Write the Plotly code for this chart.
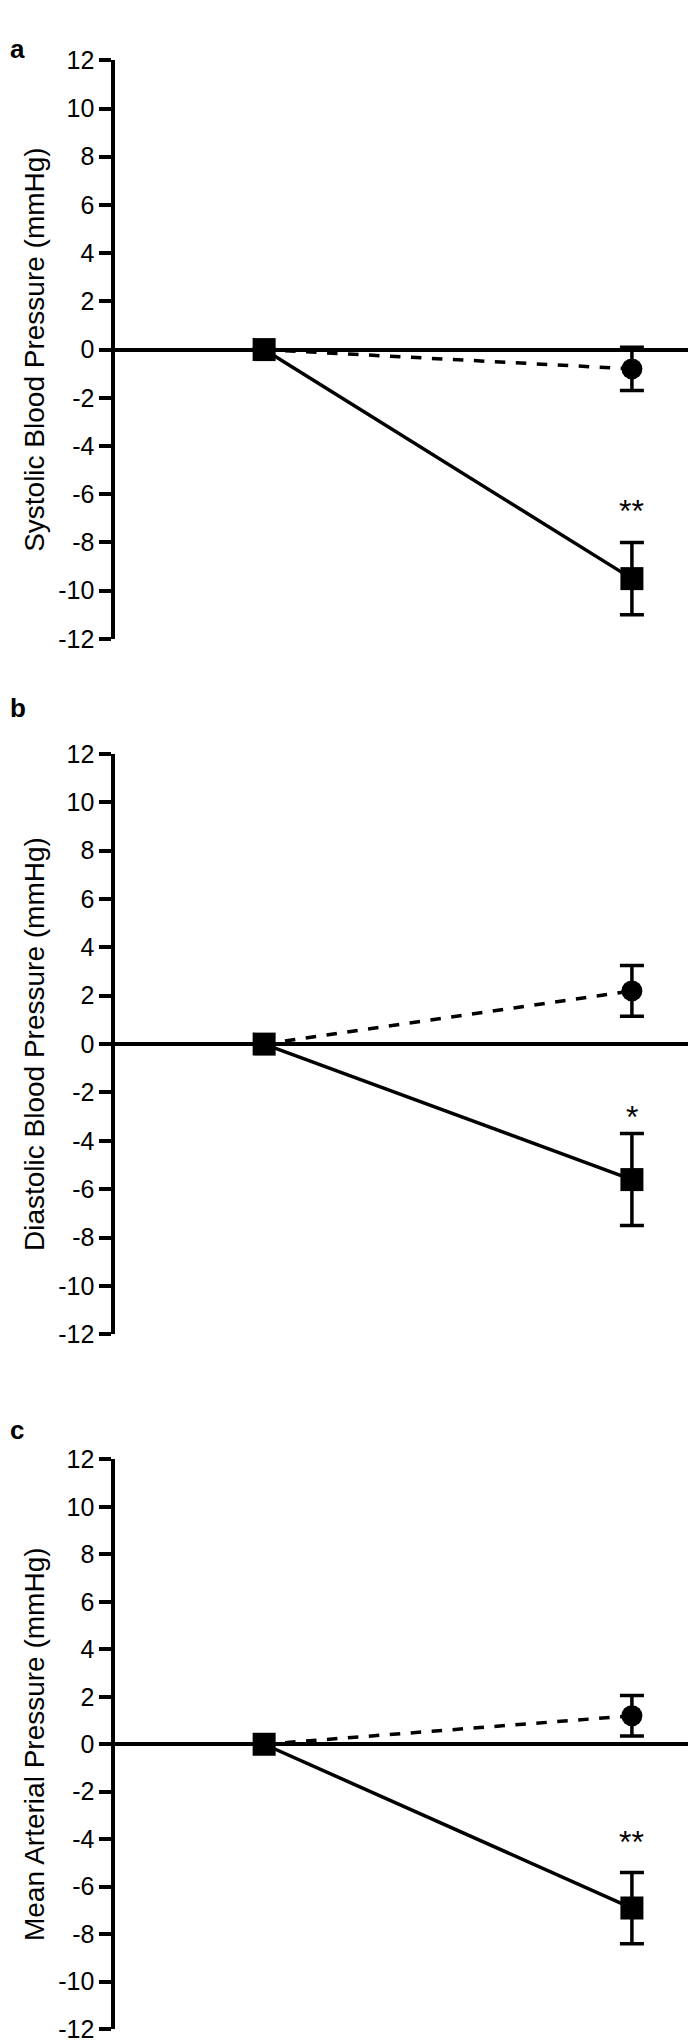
import plotly.graph_objects as go

# --- data ---
panels = ["a", "b", "c"]
titles = ["Systolic Blood Pressure (mmHg)", "Diastolic Blood Pressure (mmHg)", "Mean Arterial Pressure (mmHg)"]
x_pts = [0, 1]
dashed_y = [[0, -0.8], [0, 2.2], [0, 1.2]]
dashed_err = [[0, 0.9], [0, 1.05], [0, 0.85]]
solid_y = [[0, -9.5], [0, -5.6], [0, -6.9]]
solid_err = [[0, 1.5], [0, 1.9], [0, 1.5]]
stars = ["**", "*", "**"]
star_y = [-6.7, -3.0, -4.1]
tick_vals = list(range(-12, 13, 2))
tick_text = [str(v) for v in tick_vals]  # plain hyphen minus like the reference

domains = [[0.694, 0.981], [0.349, 0.637], [0.0044, 0.287]]
letter_y = [0.995, 0.668, 0.31]

fig = go.Figure()
for i in range(3):
    ax = "" if i == 0 else str(i + 1)
    fig.add_trace(go.Scatter(
        x=x_pts, y=dashed_y[i], xaxis="x" + ax, yaxis="y" + ax,
        mode="lines+markers", line=dict(color="black", width=3.5, dash="dash"),
        marker=dict(symbol="circle", size=[0, 21], color="black", opacity=1,
                    line=dict(width=0, color="black")),
        error_y=dict(type="data", array=dashed_err[i], color="black", thickness=3.5, width=12),
        showlegend=False))
    fig.add_trace(go.Scatter(
        x=x_pts, y=solid_y[i], xaxis="x" + ax, yaxis="y" + ax,
        mode="lines+markers", line=dict(color="black", width=3.5),
        marker=dict(symbol="square", size=23, color="black", opacity=1),
        error_y=dict(type="data", array=solid_err[i], color="black", thickness=3.5, width=12),
        showlegend=False))
    fig.add_annotation(x=1, y=star_y[i], xref="x" + ax, yref="y" + ax, text=stars[i],
                       showarrow=False, font=dict(size=32, color="black"))
    fig.add_annotation(x=0.0, y=letter_y[i], xref="paper", yref="paper", text="<b>" + panels[i] + "</b>",
                       showarrow=False, xanchor="left", yanchor="top", font=dict(size=26, color="black"))
    fig.layout["xaxis" + ax] = dict(domain=[0.154, 1.0], range=[-0.405, 1.196], visible=False,
                                    anchor="y" + ax)
    fig.layout["yaxis" + ax] = dict(
        domain=domains[i], range=[-12, 12], anchor="x" + ax, tickvals=tick_vals, ticktext=tick_text,
        showline=True, linecolor="black", linewidth=3.5, ticks="outside", ticklen=12, tickwidth=3.5,
        tickcolor="black", showgrid=False, zeroline=True, zerolinecolor="black", zerolinewidth=3.5,
        tickfont=dict(size=25, color="black"),
        title=dict(text=titles[i], font=dict(size=28, color="black"), standoff=6))

fig.update_layout(width=696, height=2044, margin=dict(l=0, r=0, t=0, b=0),
                  plot_bgcolor="white", paper_bgcolor="white",
                  font=dict(family="Liberation Sans, Arial, sans-serif", color="black"))
fig.write_html("out.html")
